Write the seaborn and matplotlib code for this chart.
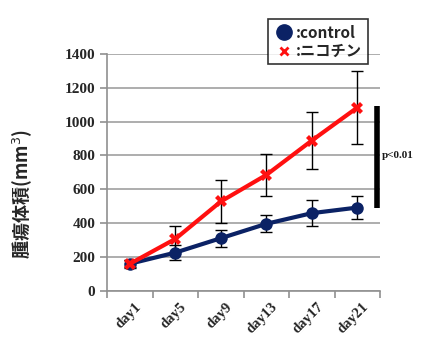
import pandas as pd
import seaborn as sns
import matplotlib.pyplot as plt
import numpy as np
from matplotlib.lines import Line2D

# Data
days = ['day1', 'day5', 'day9', 'day13', 'day17', 'day21']
control = [160, 226, 311, 396, 459, 492]
control_err = [20, 45, 50, 50, 75, 70]
nicotine = [160, 307, 528, 685, 888, 1083]
nicotine_err = [25, 77, 127, 123, 170, 217]
y_ticks = [0, 200, 400, 600, 800, 1000, 1200, 1400]

sns.set_style('white')
plt.rcParams['font.family'] = ['Noto Sans CJK JP', 'DejaVu Sans']

df = pd.DataFrame({
    'day': days * 2,
    'volume': control + nicotine,
    'group': [':control'] * 6 + [':ニコチン'] * 6,
})

navy = '#0B2265'
red = '#FF1010'

fig = plt.figure(figsize=(4.27, 3.37), dpi=100)
ax = fig.add_axes([0.251, 0.137, 0.639, 0.703])

x = np.arange(len(days))
# error bars first, lines on top
ax.errorbar(x, control, yerr=control_err, fmt='none', ecolor='black',
            elinewidth=1, capsize=4, capthick=1, zorder=2)
ax.errorbar(x, nicotine, yerr=nicotine_err, fmt='none', ecolor='black',
            elinewidth=1, capsize=4, capthick=1, zorder=2)

sns.lineplot(data=df, x='day', y='volume', hue='group', style='group',
             palette=[navy, red], markers=['o', 'X'], dashes=False,
             linewidth=3, markersize=9, markeredgewidth=0, ax=ax, zorder=3,
             legend=False)

ax.set_xlim(-0.5, 5.5)
ax.set_ylim(0, 1400)
ax.set_yticks(y_ticks)
ax.set_xticks(np.arange(-0.5, 6.0, 1.0))
ax.set_xticklabels([])
for i, d in enumerate(days):
    ax.text(i + 0.1, -55, d, rotation=45, ha='right', va='top',
            rotation_mode='anchor', fontfamily='Liberation Serif',
            fontweight='bold', fontsize=10.5)

ax.grid(axis='y', color='#A0A0A0', linewidth=1.2)
ax.set_axisbelow(True)
for s in ['top', 'right']:
    ax.spines[s].set_visible(False)
for s in ['left', 'bottom']:
    ax.spines[s].set_color('#909090')
    ax.spines[s].set_linewidth(1.2)
ax.tick_params(axis='both', length=5, color='#909090', width=1.2,
               direction='out', left=True, bottom=True)
ax.set_xlabel('')
ax.set_ylabel('腫瘍体積(mm$^3$)', fontsize=13, fontweight='bold')
ax.yaxis.set_label_coords(-0.27, 0.41)

for lbl in ax.get_yticklabels():
    lbl.set_fontfamily('Liberation Serif')
    lbl.set_fontweight('bold')
    lbl.set_fontsize(11)

# significance bar
ax.plot([5.44, 5.44], [control[-1], 1095], color='black', linewidth=4,
        clip_on=False, solid_capstyle='butt')
ax.text(5.55, 800, 'p<0.01', fontfamily='Liberation Serif', fontweight='bold',
        fontsize=8, va='center', ha='left', color='#1a1a1a')

# legend
handles = [Line2D([], [], color=navy, marker='o', linestyle='none', markersize=11),
           Line2D([], [], color=red, marker='x', linestyle='none', markersize=6,
                  markeredgewidth=2)]
leg = fig.legend(handles, [':control', ':ニコチン'], loc='upper left',
                 bbox_to_anchor=(0.61, 0.965), frameon=True, fancybox=False,
                 edgecolor='black', handletextpad=0.1, borderpad=0.35,
                 labelspacing=0.15, handlelength=1.4,
                 prop={'weight': 'bold', 'size': 11})
leg.get_frame().set_linewidth(1.2)

fig.savefig('out.png', dpi=100)
